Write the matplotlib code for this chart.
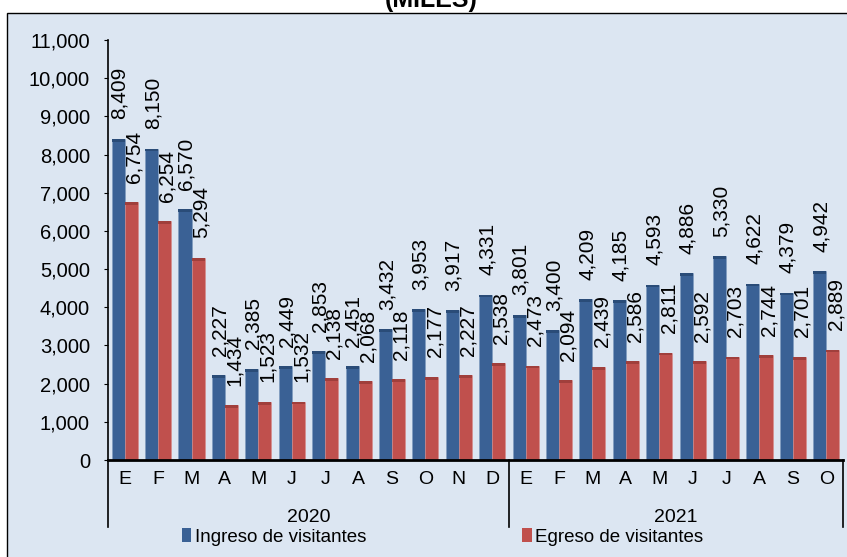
import matplotlib
matplotlib.use("Agg")
import matplotlib.pyplot as plt
import matplotlib.transforms as mtransforms
from matplotlib.patches import Rectangle, Patch
import numpy as np

plt.rcParams['font.family'] = ['Liberation Sans', 'DejaVu Sans']

title = "(MILES)"
months = ["E", "F", "M", "A", "M", "J", "J", "A", "S", "O", "N", "D",
          "E", "F", "M", "A", "M", "J", "J", "A", "S", "O"]
years = ["2020", "2021"]
months_per_year = [12, 10]
ingreso = [8409, 8150, 6570, 2227, 2385, 2449, 2853, 2451, 3432, 3953, 3917, 4331,
           3801, 3400, 4209, 4185, 4593, 4886, 5330, 4622, 4379, 4942]
egreso = [6754, 6254, 5294, 1434, 1523, 1532, 2138, 2068, 2118, 2177, 2227, 2538,
          2473, 2094, 2439, 2586, 2811, 2592, 2703, 2744, 2701, 2889]
series_names = ["Ingreso de visitantes", "Egreso de visitantes"]
yticks = list(range(0, 11001, 1000))

W, H = 847, 557
fig = plt.figure(figsize=(W / 100, H / 100), dpi=100, facecolor="white")

bg = "#DCE6F2"
fig.patches.append(Rectangle((7 / W, -0.05), 1.0, 1 - 12.5 / H + 0.05,
                             transform=fig.transFigure, facecolor=bg,
                             edgecolor="black", linewidth=1.0, zorder=-5))

fig.text(431 / W, 1 - 7 / H, title, ha="center", va="baseline",
         fontsize=18, fontweight="bold")

ax = fig.add_axes([108 / W, 97 / H, 735 / W, 420 / H])
ax.set_facecolor("none")

x = np.arange(len(months))
bw = 0.39
blue, blue_cap = "#3A6195", "#2A4C78"
red, red_cap = "#C0504D", "#A03F3C"
cap = 70

ax.bar(x - bw / 2, ingreso, bw, color=blue, edgecolor="#7F9BBF", linewidth=0.4, zorder=2)
ax.bar(x + bw / 2, egreso, bw, color=red, edgecolor="#D98A88", linewidth=0.4, zorder=2)
ax.bar(x - bw / 2, cap, bw, bottom=np.array(ingreso) - cap, color=blue_cap, linewidth=0, zorder=3)
ax.bar(x + bw / 2, cap, bw, bottom=np.array(egreso) - cap, color=red_cap, linewidth=0, zorder=3)

for xi, v in zip(x, ingreso):
    ax.annotate(f"{v:,}", (xi - bw / 2, v), xytext=(1, 14), textcoords="offset points",
                rotation=90, ha="center", va="bottom", fontsize=15, zorder=4)
for xi, v in zip(x, egreso):
    ax.annotate(f"{v:,}", (xi + bw / 2, v), xytext=(2, 14), textcoords="offset points",
                rotation=90, ha="center", va="bottom", fontsize=15, zorder=4)

ax.set_xlim(-0.5, len(months) - 0.5)
ax.set_ylim(0, 11000)
ax.set_yticks(yticks)
ax.set_yticklabels([f"{t:,}" for t in yticks], fontsize=14.5)
ax.tick_params(axis="y", direction="out", length=3, width=0.8, pad=10)
ax.set_xticks(x)
ax.set_xticklabels(months, fontsize=14)
ax.tick_params(axis="x", length=0, pad=8)

for s in ["top", "right"]:
    ax.spines[s].set_visible(False)
ax.spines["left"].set_linewidth(1.2)
ax.spines["bottom"].set_linewidth(2.0)

trans = mtransforms.blended_transform_factory(ax.transData, ax.transAxes)
start = -0.5
bounds = [start]
for n in months_per_year:
    bounds.append(bounds[-1] + n)
for b in bounds:
    ax.plot([b, b], [0, -67 / 420], transform=trans, color="black", lw=1.2, clip_on=False)
for i, yr in enumerate(years):
    ax.text((bounds[i] + bounds[i + 1]) / 2, -57 / 420, yr, transform=trans,
            ha="center", va="center", fontsize=14)

handles = [Patch(facecolor=blue), Patch(facecolor=red)]
fig.legend(handles, series_names, loc="center left",
           bbox_to_anchor=(182 / W, 1 - 537 / H), ncol=2, frameon=False,
           fontsize=13.5, handlelength=0.5, handleheight=0.7, handletextpad=0.2,
           columnspacing=8.3, borderpad=0, borderaxespad=0)

fig.savefig("out.png", dpi=100, facecolor="white")
